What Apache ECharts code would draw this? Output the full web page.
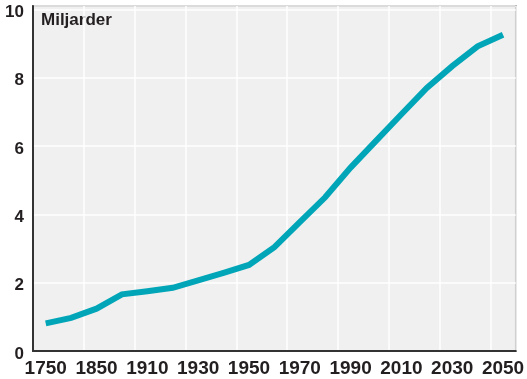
<!DOCTYPE html>
<html>
<head>
<meta charset="utf-8">
<script src="https://cdn.jsdelivr.net/npm/echarts@6/dist/echarts.min.js"></script>
<style>
  html, body { margin: 0; padding: 0; background: #ffffff; }
  #chart { width: 527px; height: 379px; }
</style>
</head>
<body>
<div id="chart"></div>
<script>
// World population, billions
const years = ['1750', '1800', '1850', '1900', '1910', '1920', '1930', '1940', '1950', '1960',
               '1970', '1980', '1990', '2000', '2010', '2020', '2030', '2040', '2050'];
const population = [0.81, 0.97, 1.24, 1.66, 1.75, 1.85, 2.07, 2.29, 2.52, 3.04,
                    3.77, 4.5, 5.37, 6.15, 6.93, 7.7, 8.34, 8.92, 9.26];
const yTicks = [0, 2, 4, 6, 8, 10];
const unitLabel = 'Miljarder';

const textColor = '#231f20';
const chart = echarts.init(document.getElementById('chart'), null, { renderer: 'canvas' });

chart.setOption({
  animation: false,
  backgroundColor: '#ffffff',
  grid: {
    left: 33, right: 5, top: 6, bottom: 28,
    show: true,
    backgroundColor: '#f0f0f0',
    borderColor: '#444444',
    borderWidth: 1.5
  },
  graphic: [{
    type: 'text',
    left: 41,
    top: 12,
    style: { text: unitLabel, fontFamily: 'Liberation Sans', fontWeight: 'bold', fontSize: 17, fill: textColor }
  }],
  xAxis: {
    type: 'category',
    data: years,
    boundaryGap: true,
    axisLine: { lineStyle: { color: '#333333', width: 2 } },
    axisTick: { show: false },
    axisLabel: {
      interval: 1,
      margin: 8,
      color: textColor,
      fontFamily: 'Liberation Sans',
      fontWeight: 'bold',
      fontSize: 19
    },
    splitLine: { show: true, interval: 1, lineStyle: { color: '#ffffff', width: 1.5 } }
  },
  yAxis: {
    type: 'value',
    min: 0,
    max: 10.1,
    interval: 2,
    axisLine: { show: true, lineStyle: { color: '#333333', width: 2 } },
    axisTick: { show: false },
    axisLabel: {
      margin: 9,
      verticalAlign: 'top',
      lineHeight: 6,
      color: textColor,
      fontFamily: 'Liberation Sans',
      fontWeight: 'bold',
      fontSize: 17,
      showMaxLabel: false,
      formatter: v => (yTicks.includes(v) ? String(v) : '')
    },
    splitLine: { lineStyle: { color: '#ffffff', width: 1.5 } }
  },
  series: [{
    type: 'line',
    data: population,
    symbol: 'none',
    lineStyle: { color: '#00a6b8', width: 6, join: 'miter' }
  }]
});
</script>
</body>
</html>
